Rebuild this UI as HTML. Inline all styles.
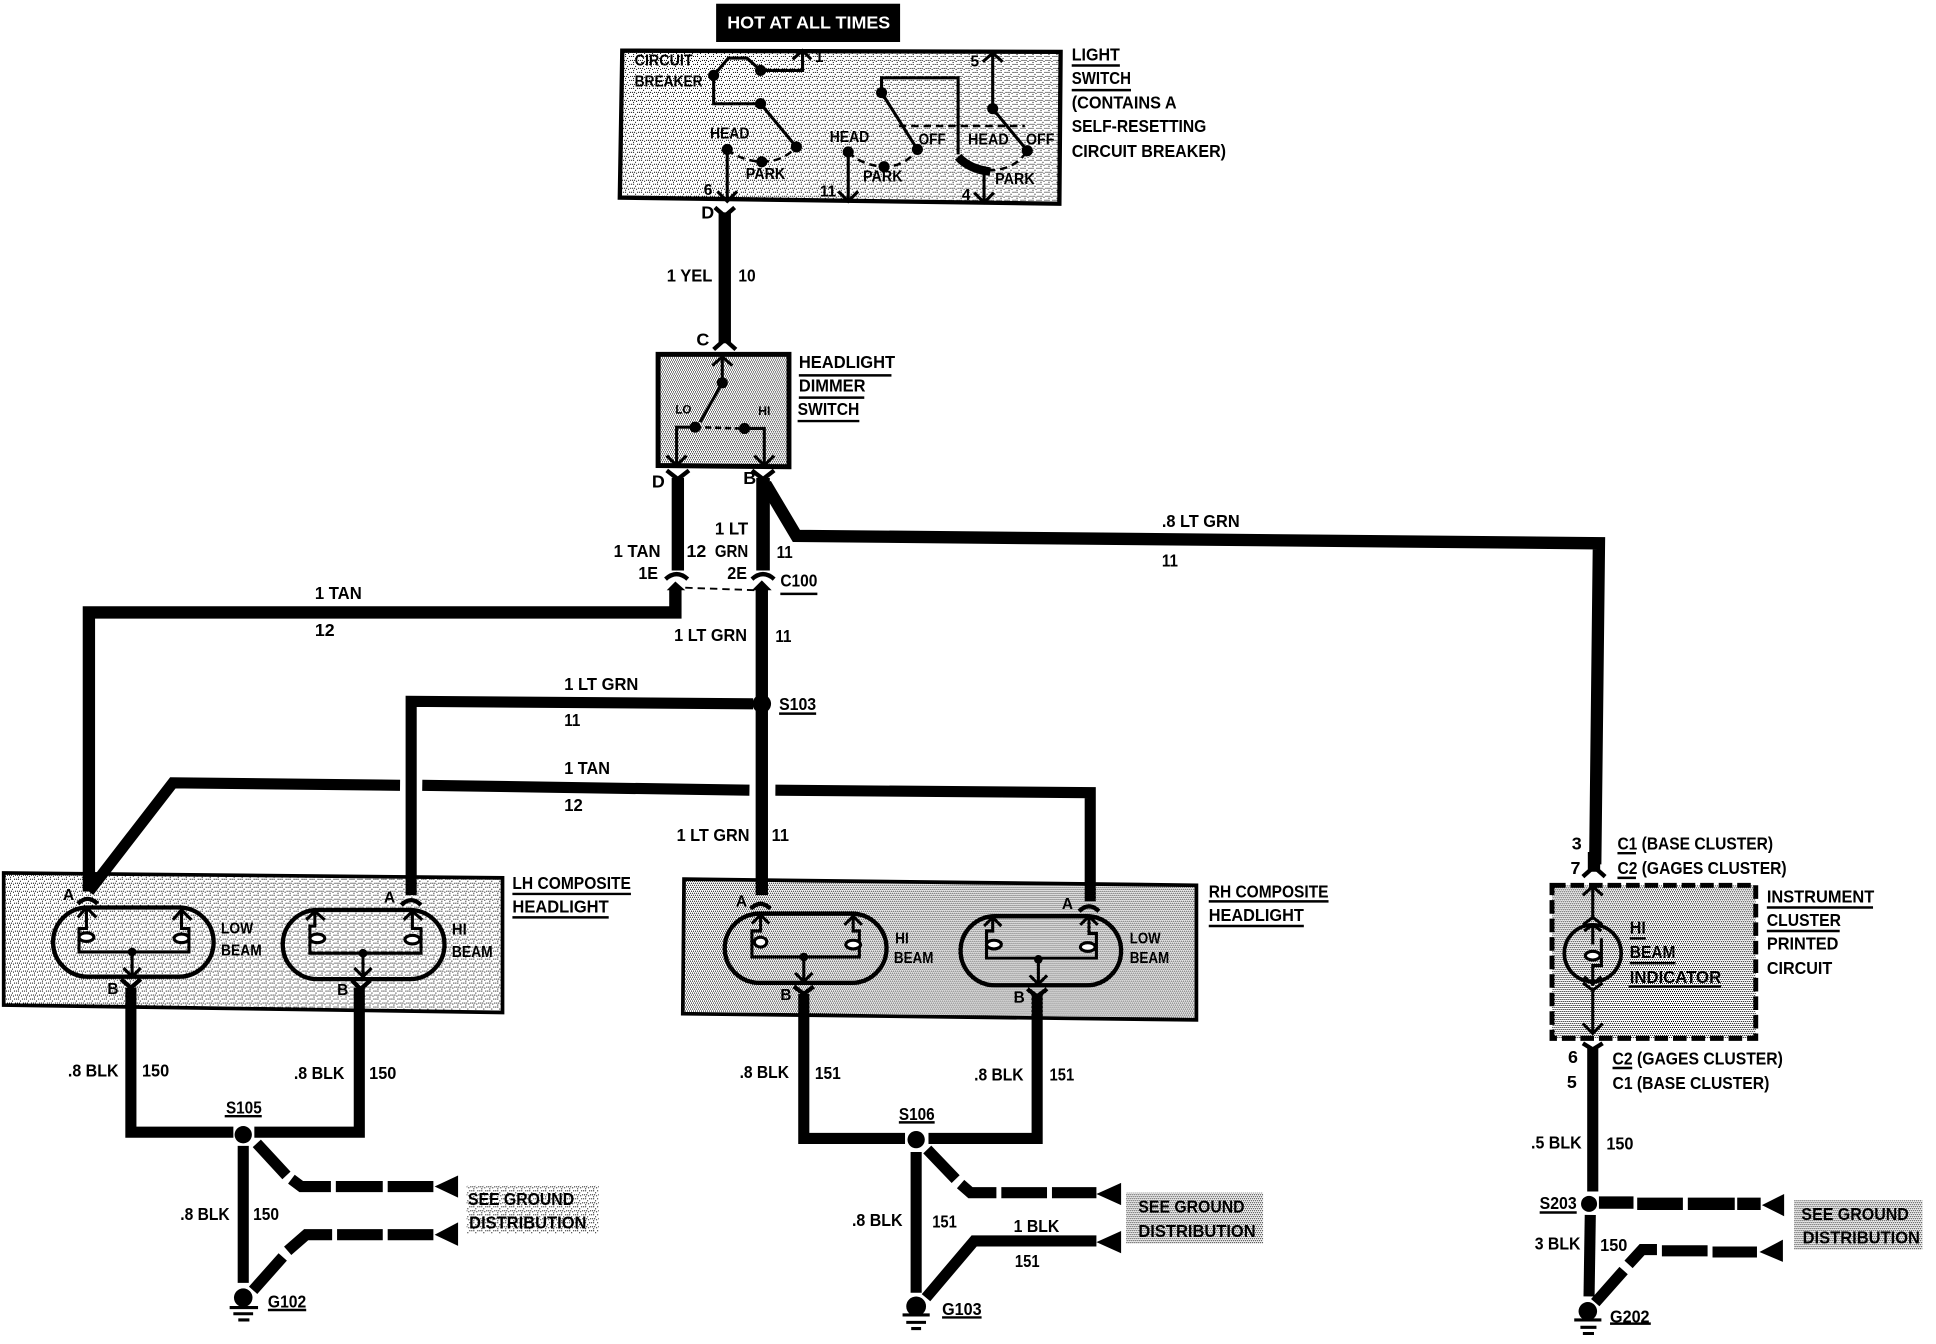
<!DOCTYPE html>
<html><head><meta charset="utf-8"><style>
html,body{margin:0;padding:0;background:#fff}
svg{display:block}
text{font-family:"Liberation Sans",sans-serif;font-weight:bold;font-size:14.5px;fill:#000;transform:translateY(-1px)}
.s{font-size:12.5px}
.w{fill:none;stroke:#000;stroke-linejoin:miter}
.t{fill:none;stroke:#000;stroke-width:2.5}
.f{fill:none;stroke:#000;stroke-width:3.5}
.u{stroke:#000;stroke-width:2;transform:translateY(-1px)}
</style></head><body>
<svg xmlns="http://www.w3.org/2000/svg" width="1936" height="1344" viewBox="0 0 1568 1088.5">
<defs>
<pattern id="p1" patternUnits="userSpaceOnUse" width="6.47" height="6.47"><g shape-rendering="crispEdges" fill="#000">
<rect x="0" y="0" width=".81" height=".81"/><rect x="1.6" y="0" width=".81" height=".81"/><rect x="3.2" y="1.6" width=".81" height=".81"/><rect x="4.8" y="0" width=".81" height=".81"/><rect x=".8" y="3.2" width=".81" height=".81"/><rect x="2.4" y="3.2" width=".81" height=".81"/><rect x="4" y="4" width=".81" height=".81"/><rect x="5.6" y="3.2" width=".81" height=".81"/><rect x="1.6" y="4.8" width=".81" height=".81"/></g></pattern>
<pattern id="p2" patternUnits="userSpaceOnUse" width="6.47" height="6.47"><g shape-rendering="crispEdges" fill="#000">
<rect x="0" y="0" width=".81" height=".81"/><rect x="1.6" y="0" width=".81" height=".81"/><rect x="3.2" y="0" width=".81" height=".81"/><rect x="4.8" y="0" width=".81" height=".81"/><rect x=".8" y="1.6" width=".81" height=".81"/><rect x="2.4" y="1.6" width=".81" height=".81"/><rect x="4" y="1.6" width=".81" height=".81"/><rect x="5.6" y="1.6" width=".81" height=".81"/><rect x="0" y="3.2" width=".81" height=".81"/><rect x="1.6" y="3.2" width=".81" height=".81"/><rect x="3.2" y="3.2" width=".81" height=".81"/><rect x="4.8" y="3.2" width=".81" height=".81"/><rect x=".8" y="4.8" width=".81" height=".81"/><rect x="2.4" y="4.8" width=".81" height=".81"/><rect x="4" y="4.8" width=".81" height=".81"/><rect x="5.6" y="4.8" width=".81" height=".81"/></g></pattern>
<pattern id="p3" patternUnits="userSpaceOnUse" width="3.23" height="3.23"><g shape-rendering="crispEdges" fill="#000">
<rect x="0" y="0" width=".81" height=".81"/><rect x="1.6" y="0" width=".81" height=".81"/><rect x=".8" y="1.6" width=".81" height=".81"/><rect x="2.4" y="1.6" width=".81" height=".81"/></g></pattern>
</defs>
<rect width="1568" height="1089" fill="#fff"/>

<!-- stippled label backs -->
<rect x="378" y="960" width="107" height="39" fill="url(#p1)"/>
<rect x="912" y="966" width="111" height="41" fill="url(#p2)"/>
<rect x="1453" y="972" width="104" height="40" fill="url(#p2)"/>

<!-- boxes -->
<polygon points="504,41 859,42 858,165 502,160" fill="url(#p1)" stroke="#000" stroke-width="3.5"/>
<polygon points="533,287 639,287 639,378 533,377" fill="url(#p2)" stroke="#000" stroke-width="4"/>
<polygon points="3,707 407,711 407,820 3,814" fill="url(#p1)" stroke="#000" stroke-width="3"/>
<polygon points="554,712 969,717 969,826 553,821" fill="url(#p2)" stroke="#000" stroke-width="3"/>
<rect x="1257" y="717" width="165" height="124" fill="url(#p3)" stroke="#000" stroke-width="4" stroke-dasharray="11 4"/>

<!-- hot box -->
<rect x="580" y="3" width="149" height="31" fill="#000"/>
<text x="589" y="24" textLength="132" lengthAdjust="spacingAndGlyphs" style="fill:#fff">HOT AT ALL TIMES</text>

<!-- light switch internals -->
<path class="t" d="M616,57H650V42M578,61L590,47H605L616,57M578,61V84H616L645,119M589,121V162M687,123V162M743,121L714,75V63H776V125M804,43V88L832,122M797,138V163"/>
<path class="t" d="M642,48L650,41L657,48M796,50L804,43L812,50M581,155L589,163L597,155M679,155L687,163L695,155M789,156L797,164L805,156"/>
<path d="M589,121Q600,130 617,131Q634,131 645,119M687,123Q698,134 716,135Q733,135 743,121M800,138Q822,138 832,122M728,102H830" fill="none" stroke="#000" stroke-width="2" stroke-dasharray="6 4"/>
<path d="M776,127Q785,137 802,139" fill="none" stroke="#000" stroke-width="7"/>
<g><circle cx="578" cy="61" r="4.5"/><circle cx="616" cy="57" r="4.5"/><circle cx="616" cy="84" r="4.5"/><circle cx="645" cy="119" r="4.5"/><circle cx="589" cy="121" r="4.5"/><circle cx="617" cy="131" r="4.5"/><circle cx="687" cy="123" r="4.5"/><circle cx="716" cy="135" r="4.5"/><circle cx="743" cy="121" r="4.5"/><circle cx="714" cy="75" r="4.5"/><circle cx="804" cy="88" r="4.5"/><circle cx="832" cy="122" r="4.5"/></g>
<text x="514" y="54" textLength="47" lengthAdjust="spacingAndGlyphs" class="s">CIRCUIT</text>
<text x="514" y="71" textLength="55" lengthAdjust="spacingAndGlyphs" class="s">BREAKER</text>
<text x="575" y="113" textLength="32" lengthAdjust="spacingAndGlyphs" class="s">HEAD</text>
<text x="604" y="146" textLength="32" lengthAdjust="spacingAndGlyphs" class="s">PARK</text>
<text x="672" y="116" textLength="32" lengthAdjust="spacingAndGlyphs" class="s">HEAD</text>
<text x="744" y="118" textLength="22" lengthAdjust="spacingAndGlyphs" class="s">OFF</text>
<text x="699" y="148" textLength="32" lengthAdjust="spacingAndGlyphs" class="s">PARK</text>
<text x="784" y="118" textLength="33" lengthAdjust="spacingAndGlyphs" class="s">HEAD</text>
<text x="831" y="118" textLength="23" lengthAdjust="spacingAndGlyphs" class="s">OFF</text>
<text x="806" y="150" textLength="32" lengthAdjust="spacingAndGlyphs" class="s">PARK</text>
<text x="660" y="51" class="s">1</text><text x="786" y="55" class="s">5</text><text x="570" y="159" class="s">6</text><text x="664" y="160" class="s">11</text><text x="779" y="163" class="s">4</text>
<text x="868" y="50" textLength="39" lengthAdjust="spacingAndGlyphs">LIGHT</text><line class="u" x1="868" y1="54" x2="907" y2="54"/>
<text x="868" y="69" textLength="48" lengthAdjust="spacingAndGlyphs">SWITCH</text><line class="u" x1="868" y1="74" x2="916" y2="74"/>
<text x="868" y="89" textLength="85" lengthAdjust="spacingAndGlyphs">(CONTAINS A</text>
<text x="868" y="108" textLength="109" lengthAdjust="spacingAndGlyphs">SELF-RESETTING</text>
<text x="868" y="128" textLength="125" lengthAdjust="spacingAndGlyphs">CIRCUIT BREAKER)</text>

<!-- main wire top -->
<path class="w" stroke-width="10" d="M587,172V278"/>
<path class="f" d="M579,168L587,175L595,168M578,283L587,275L596,283"/>
<text x="568" y="178">D</text><text x="564" y="281">C</text>
<text x="540" y="229" textLength="37" lengthAdjust="spacingAndGlyphs">1 YEL</text><text x="598" y="229" textLength="14" lengthAdjust="spacingAndGlyphs">10</text>

<!-- dimmer internals -->
<path class="t" d="M585,289V310L567,342M563,346H548V376M603,347H619V376"/>
<path class="t" d="M577,296L585,289L593,296M540,369L548,377L556,369M611,369L619,377L627,369"/>
<path d="M563,346L603,347" stroke="#000" stroke-width="2" stroke-dasharray="5 3"/>
<circle cx="585" cy="310" r="4.5"/><circle cx="563" cy="346" r="4.5"/><circle cx="603" cy="347" r="4.5"/>
<text x="547" y="336" textLength="13" lengthAdjust="spacingAndGlyphs" style="font-size:10px">LO</text>
<text x="614" y="337" textLength="10" lengthAdjust="spacingAndGlyphs" style="font-size:10px">HI</text>
<text x="647" y="299" textLength="78" lengthAdjust="spacingAndGlyphs">HEADLIGHT</text><line class="u" x1="647" y1="305" x2="722" y2="305"/>
<text x="647" y="318" textLength="54" lengthAdjust="spacingAndGlyphs">DIMMER</text><line class="u" x1="647" y1="323" x2="700" y2="323"/>
<text x="646" y="337" textLength="50" lengthAdjust="spacingAndGlyphs">SWITCH</text><line class="u" x1="646" y1="342" x2="696" y2="342"/>

<!-- below dimmer -->
<path class="w" stroke-width="10" d="M549,387V462"/>
<path class="w" stroke-width="11" d="M618,387V462"/>
<path class="w" stroke-width="10" d="M620,392L645,434L1295,440L1292,700"/>
<path class="f" d="M540,381L549,388L558,381M609,381L618,388L627,381"/>
<path class="f" d="M539,469Q548,461 557,469M609,469Q618,461 627,469"/>
<path d="M540,478L547,471L555,478Z M609,478L617,470L625,478Z"/>
<path d="M555,476L612,478" stroke="#000" stroke-width="1.5" stroke-dasharray="6 4"/>
<text x="528" y="396">D</text><text x="602" y="393">B</text>
<text x="497" y="452" textLength="38" lengthAdjust="spacingAndGlyphs">1 TAN</text><text x="556" y="452" textLength="16" lengthAdjust="spacingAndGlyphs">12</text>
<text x="579" y="434" textLength="27" lengthAdjust="spacingAndGlyphs">1 LT</text><text x="579" y="452" textLength="27" lengthAdjust="spacingAndGlyphs">GRN</text>
<text x="629" y="453" textLength="13" lengthAdjust="spacingAndGlyphs">11</text>
<text x="517" y="470" textLength="16" lengthAdjust="spacingAndGlyphs">1E</text><text x="589" y="470" textLength="16" lengthAdjust="spacingAndGlyphs">2E</text>
<text x="632" y="476" textLength="30" lengthAdjust="spacingAndGlyphs">C100</text><line class="u" x1="632" y1="482" x2="662" y2="482"/>
<text x="941" y="428" textLength="63" lengthAdjust="spacingAndGlyphs">.8 LT GRN</text><text x="941" y="460" textLength="13" lengthAdjust="spacingAndGlyphs">11</text>

<!-- harness -->
<path class="w" stroke-width="10" d="M547,476V496L72,496V722"/>
<path class="w" stroke-width="10" d="M617,476V725"/>
<path class="w" stroke-width="9" d="M610,570L333,568V725"/>
<path class="w" stroke-width="9" d="M72,722L140,634L324,636"/>
<path class="w" stroke-width="9" d="M342,636L607,640"/>
<path class="w" stroke-width="9" d="M628,640L883,642V730"/>
<circle cx="617" cy="570" r="7.5"/>
<text x="255" y="486" textLength="38" lengthAdjust="spacingAndGlyphs">1 TAN</text><text x="255" y="516" textLength="16" lengthAdjust="spacingAndGlyphs">12</text>
<text x="546" y="520" textLength="59" lengthAdjust="spacingAndGlyphs">1 LT GRN</text><text x="628" y="521" textLength="13" lengthAdjust="spacingAndGlyphs">11</text>
<text x="631" y="576" textLength="30" lengthAdjust="spacingAndGlyphs">S103</text><line class="u" x1="631" y1="579" x2="661" y2="579"/>
<text x="457" y="560" textLength="60" lengthAdjust="spacingAndGlyphs">1 LT GRN</text><text x="457" y="589" textLength="13" lengthAdjust="spacingAndGlyphs">11</text>
<text x="457" y="628" textLength="37" lengthAdjust="spacingAndGlyphs">1 TAN</text><text x="457" y="658" textLength="15" lengthAdjust="spacingAndGlyphs">12</text>
<text x="548" y="682" textLength="59" lengthAdjust="spacingAndGlyphs">1 LT GRN</text><text x="625" y="682" textLength="14" lengthAdjust="spacingAndGlyphs">11</text>

<!-- LH headlight -->
<rect x="43" y="735" width="130" height="56" rx="28" class="w" stroke-width="3.5"/>
<rect x="229" y="737" width="131" height="56" rx="28" class="w" stroke-width="3.5"/>
<path class="t" d="M70,735V752H64V771H153V752H147V737M255,738V750H251V772H341V752H334V738M107,771V791M294,772V791"/>
<path class="t" d="M63,743L70,735L78,743M140,745L147,737L155,745M248,745L255,738L263,745M327,745L334,738L342,745M100,784L107,791L114,784M287,784L294,791L301,784"/>
<ellipse cx="70" cy="759" rx="6" ry="3.5" fill="#fff" stroke="#000" stroke-width="2.5"/><ellipse cx="147" cy="760" rx="6" ry="3.5" fill="#fff" stroke="#000" stroke-width="2.5"/><ellipse cx="257" cy="760" rx="6" ry="3.5" fill="#fff" stroke="#000" stroke-width="2.5"/><ellipse cx="334" cy="761" rx="6" ry="3.5" fill="#fff" stroke="#000" stroke-width="2.5"/>
<circle cx="107" cy="771" r="3.5"/><circle cx="294" cy="772" r="3.5"/>
<path class="f" d="M63,732Q71,724 79,732M325,733Q333,725 341,733M98,793L106,800L114,793M285,794L292,801L300,794"/>
<text x="179" y="757" textLength="26" lengthAdjust="spacingAndGlyphs" class="s">LOW</text><text x="179" y="775" textLength="33" lengthAdjust="spacingAndGlyphs" class="s">BEAM</text>
<text x="366" y="758" textLength="12" lengthAdjust="spacingAndGlyphs" class="s">HI</text><text x="366" y="776" textLength="33" lengthAdjust="spacingAndGlyphs" class="s">BEAM</text>
<text x="51" y="730" class="s">A</text><text x="311" y="732" class="s">A</text><text x="87" y="806" class="s">B</text><text x="273" y="807" class="s">B</text>
<text x="415" y="721" textLength="96" lengthAdjust="spacingAndGlyphs">LH COMPOSITE</text><line class="u" x1="415" y1="725" x2="511" y2="725"/>
<text x="415" y="740" textLength="78" lengthAdjust="spacingAndGlyphs">HEADLIGHT</text><line class="u" x1="415" y1="744" x2="493" y2="744"/>

<!-- RH headlight -->
<rect x="587" y="740" width="131" height="56" rx="28" class="w" stroke-width="3.5"/>
<rect x="778" y="742" width="130" height="56" rx="28" class="w" stroke-width="3.5"/>
<path class="t" d="M616,741V754H609V775H696V754H691V742M804,743V754H799V776H888V756H882V742M651,775V795M841,777V797"/>
<path class="t" d="M609,748L616,741L623,748M684,749L691,742L698,749M797,750L804,743L811,750M875,749L882,742L889,749M644,788L651,795L658,788M834,790L841,797L848,790"/>
<ellipse cx="616" cy="763" rx="5" ry="4" fill="#fff" stroke="#000" stroke-width="2.5"/><ellipse cx="691" cy="765" rx="6" ry="3.5" fill="#fff" stroke="#000" stroke-width="2.5"/><ellipse cx="805" cy="765" rx="6" ry="3.5" fill="#fff" stroke="#000" stroke-width="2.5"/><ellipse cx="881" cy="767" rx="6" ry="3.5" fill="#fff" stroke="#000" stroke-width="2.5"/>
<circle cx="651" cy="775" r="3.5"/><circle cx="841" cy="777" r="3.5"/>
<path class="f" d="M608,736Q616,728 624,736M874,738Q882,730 890,738M643,799L651,805L659,799M832,801L840,807L848,801"/>
<text x="725" y="765" textLength="11" lengthAdjust="spacingAndGlyphs" class="s">HI</text><text x="724" y="781" textLength="32" lengthAdjust="spacingAndGlyphs" class="s">BEAM</text>
<text x="915" y="765" textLength="25" lengthAdjust="spacingAndGlyphs" class="s">LOW</text><text x="915" y="781" textLength="32" lengthAdjust="spacingAndGlyphs" class="s">BEAM</text>
<text x="596" y="735" class="s">A</text><text x="860" y="737" class="s">A</text><text x="632" y="811" class="s">B</text><text x="821" y="813" class="s">B</text>
<text x="979" y="728" textLength="97" lengthAdjust="spacingAndGlyphs">RH COMPOSITE</text><line class="u" x1="979" y1="731" x2="1076" y2="731"/>
<text x="979" y="747" textLength="77" lengthAdjust="spacingAndGlyphs">HEADLIGHT</text><line class="u" x1="979" y1="751" x2="1056" y2="751"/>

<!-- LH ground -->
<path class="w" stroke-width="9" d="M106,800V917H189"/>
<path class="w" stroke-width="9" d="M291,800V917H206"/>
<circle cx="197" cy="919" r="7"/>
<path class="w" stroke-width="9" d="M197,928V1039"/>
<path class="w" stroke-width="9" d="M208,926L232,952M236,955L244,961H268M272,961H310M314,961H351"/>
<path class="w" stroke-width="9" d="M205,1045L229,1018M233,1013L248,1000H269M273,1000H310M314,1000H351"/>
<path d="M352,961L371,952V970Z M352,1000L371,990V1009Z"/>
<circle cx="197" cy="1051" r="7.5"/>
<path d="M186,1059H209M189,1064H205M193,1069H202" stroke="#000" stroke-width="2.5" fill="none"/>
<text x="55" y="873" textLength="41" lengthAdjust="spacingAndGlyphs">.8 BLK</text><text x="115" y="873" textLength="22" lengthAdjust="spacingAndGlyphs">150</text>
<text x="238" y="875" textLength="41" lengthAdjust="spacingAndGlyphs">.8 BLK</text><text x="299" y="875" textLength="22" lengthAdjust="spacingAndGlyphs">150</text>
<text x="183" y="903" textLength="29" lengthAdjust="spacingAndGlyphs">S105</text><line class="u" x1="182" y1="905" x2="212" y2="905"/>
<text x="146" y="989" textLength="40" lengthAdjust="spacingAndGlyphs">.8 BLK</text><text x="205" y="989" textLength="21" lengthAdjust="spacingAndGlyphs">150</text>
<text x="217" y="1060" textLength="31" lengthAdjust="spacingAndGlyphs">G102</text><line class="u" x1="217" y1="1062" x2="248" y2="1062"/>
<text x="379" y="977" textLength="86" lengthAdjust="spacingAndGlyphs">SEE GROUND</text><text x="380" y="996" textLength="95" lengthAdjust="spacingAndGlyphs">DISTRIBUTION</text>

<!-- RH ground -->
<path class="w" stroke-width="9" d="M651,805V922H733"/>
<path class="w" stroke-width="9" d="M840,805V922H752"/>
<circle cx="742" cy="923" r="7"/>
<path class="w" stroke-width="9" d="M742,933V1047"/>
<path class="w" stroke-width="9" d="M751,931L774,955M778,959L786,966H807M811,966H848M852,966H888"/>
<path class="w" stroke-width="9" d="M750,1051L789,1005H888"/>
<path d="M888,967L908,958V976Z M888,1006L908,997V1015Z"/>
<circle cx="742" cy="1058" r="8"/>
<path d="M731,1065H753M734,1071H750M738,1076H746" stroke="#000" stroke-width="2.5" fill="none"/>
<text x="599" y="874" textLength="40" lengthAdjust="spacingAndGlyphs">.8 BLK</text><text x="660" y="875" textLength="21" lengthAdjust="spacingAndGlyphs">151</text>
<text x="789" y="876" textLength="40" lengthAdjust="spacingAndGlyphs">.8 BLK</text><text x="850" y="876" textLength="20" lengthAdjust="spacingAndGlyphs">151</text>
<text x="728" y="908" textLength="29" lengthAdjust="spacingAndGlyphs">S106</text><line class="u" x1="728" y1="910" x2="757" y2="910"/>
<text x="690" y="994" textLength="41" lengthAdjust="spacingAndGlyphs">.8 BLK</text><text x="755" y="995" textLength="20" lengthAdjust="spacingAndGlyphs">151</text>
<text x="821" y="999" textLength="37" lengthAdjust="spacingAndGlyphs">1 BLK</text><text x="822" y="1027" textLength="20" lengthAdjust="spacingAndGlyphs">151</text>
<text x="763" y="1066" textLength="32" lengthAdjust="spacingAndGlyphs">G103</text><line class="u" x1="763" y1="1068" x2="795" y2="1068"/>
<text x="922" y="983" textLength="86" lengthAdjust="spacingAndGlyphs">SEE GROUND</text><text x="922" y="1003" textLength="95" lengthAdjust="spacingAndGlyphs">DISTRIBUTION</text>

<!-- Instrument cluster -->
<path class="t" d="M1290,718V743M1290,801V836"/>
<path class="t" d="M1282,725L1290,718L1298,725M1282,749L1290,743L1298,749M1282,796L1290,802L1298,796M1282,829L1290,837L1298,829"/>
<circle cx="1290" cy="772" r="23" fill="none" stroke="#000" stroke-width="3"/>
<path class="t" d="M1290,749V765M1297,760V782H1290V798M1283,754L1290,749L1297,754M1283,791L1290,797L1297,791"/>
<ellipse cx="1290" cy="774" rx="6" ry="3.5" fill="#fff" stroke="#000" stroke-width="2.5"/>
<path class="w" stroke-width="10" d="M1291,690V706"/>
<path class="f" d="M1282,710L1291,702L1300,710"/>
<path class="f" d="M1282,845L1290,850L1298,845"/>
<path class="w" stroke-width="9" d="M1290,848V965"/>
<text x="1273" y="689">3</text><text x="1272" y="709">7</text>
<text x="1310" y="689" textLength="126" lengthAdjust="spacingAndGlyphs">C1 (BASE CLUSTER)</text><line class="u" x1="1310" y1="692" x2="1325" y2="692"/>
<text x="1310" y="709" textLength="137" lengthAdjust="spacingAndGlyphs">C2 (GAGES CLUSTER)</text><line class="u" x1="1310" y1="712" x2="1325" y2="712"/>
<text x="1431" y="732" textLength="87" lengthAdjust="spacingAndGlyphs">INSTRUMENT</text><line class="u" x1="1431" y1="736" x2="1517" y2="736"/>
<text x="1431" y="751" textLength="60" lengthAdjust="spacingAndGlyphs">CLUSTER</text><line class="u" x1="1431" y1="755" x2="1490" y2="755"/>
<text x="1431" y="770" textLength="58" lengthAdjust="spacingAndGlyphs">PRINTED</text><text x="1431" y="790" textLength="53" lengthAdjust="spacingAndGlyphs">CIRCUIT</text>
<text x="1320" y="757" textLength="13" lengthAdjust="spacingAndGlyphs">HI</text><line class="u" x1="1320" y1="761" x2="1333" y2="761"/>
<text x="1320" y="777" textLength="37" lengthAdjust="spacingAndGlyphs">BEAM</text><line class="u" x1="1320" y1="781" x2="1357" y2="781"/>
<text x="1320" y="797" textLength="74" lengthAdjust="spacingAndGlyphs">INDICATOR</text><line class="u" x1="1319" y1="800" x2="1394" y2="800"/>
<text x="1270" y="862">6</text><text x="1269" y="882">5</text>
<text x="1306" y="863" textLength="138" lengthAdjust="spacingAndGlyphs">C2 (GAGES CLUSTER)</text><line class="u" x1="1306" y1="866" x2="1322" y2="866"/>
<text x="1306" y="883" textLength="127" lengthAdjust="spacingAndGlyphs">C1 (BASE CLUSTER)</text>

<!-- cluster ground -->
<circle cx="1287" cy="975" r="6.5"/>
<path class="w" stroke-width="9" d="M1288,984L1287,1050"/>
<path class="w" stroke-width="10" d="M1295,974H1323M1326,975H1363M1367,975H1405M1407,975H1426"/>
<path class="w" stroke-width="9" d="M1292,1055L1315,1029M1319,1024L1330,1012H1342M1346,1013H1383M1387,1014H1423"/>
<path d="M1427,976L1445,967V985Z M1425,1014L1444,1004V1022Z"/>
<circle cx="1286" cy="1062" r="7.5"/>
<path d="M1275,1069H1297M1280,1075H1293M1282,1080H1291" stroke="#000" stroke-width="2.5" fill="none"/>
<text x="1240" y="931" textLength="41" lengthAdjust="spacingAndGlyphs">.5 BLK</text><text x="1301" y="932" textLength="22" lengthAdjust="spacingAndGlyphs">150</text>
<text x="1247" y="980" textLength="30" lengthAdjust="spacingAndGlyphs">S203</text><line class="u" x1="1247" y1="983" x2="1277" y2="983"/>
<text x="1243" y="1013" textLength="37" lengthAdjust="spacingAndGlyphs">3 BLK</text><text x="1296" y="1014" textLength="22" lengthAdjust="spacingAndGlyphs">150</text>
<text x="1304" y="1072" textLength="32" lengthAdjust="spacingAndGlyphs">G202</text><line class="u" x1="1304" y1="1073" x2="1337" y2="1073"/>
<text x="1459" y="989" textLength="87" lengthAdjust="spacingAndGlyphs">SEE GROUND</text><text x="1460" y="1008" textLength="95" lengthAdjust="spacingAndGlyphs">DISTRIBUTION</text>
</svg>
</body></html>
